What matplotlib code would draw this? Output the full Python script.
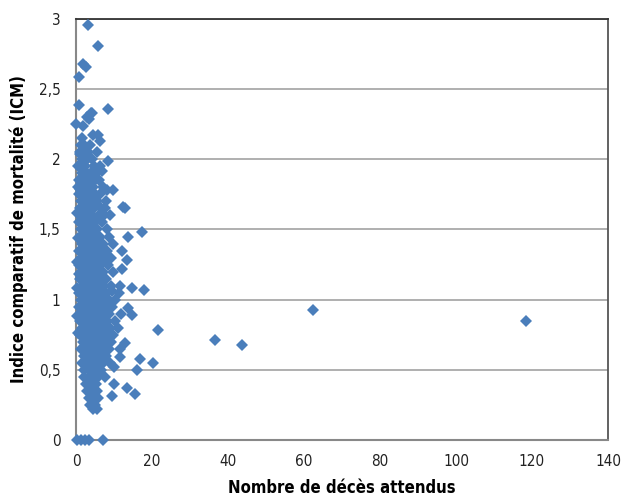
import matplotlib
matplotlib.use("Agg")
import matplotlib.pyplot as plt
from matplotlib.ticker import FuncFormatter, MultipleLocator

plt.rcParams['font.family'] = ['DejaVu Sans']
plt.rcParams['font.stretch'] = 'condensed'

# valeurs : (décès attendus, ICM)
outliers_x = [118.5, 62.5, 36.5, 43.8, 21.6, 20.2, 17.4, 17.8, 16.9, 16.1, 15.6,
              14.7, 14.7, 13.8, 13.8, 13.4, 13.4, 13.0, 13.0, 12.5, 12.1, 12.1,
              11.6, 11.6, 9.9, 9.9, 9.4, 9.4, 8.5, 8.5, 8.1, 9.7, 7.7]
outliers_y = [0.85, 0.924, 0.713, 0.68, 0.786, 0.55, 1.48, 1.07, 0.58, 0.50, 0.33,
              1.08, 0.89, 1.45, 0.94, 1.28, 0.37, 1.65, 0.69, 1.66, 1.35, 1.22,
              1.10, 0.59, 0.52, 0.40, 1.06, 0.31, 2.36, 1.99, 1.78, 1.78, 1.65]

top_x = [3.1, 5.8, 1.9, 2.6, 0.8, 0.9, 3.9, 2.8, 4.1, 3.3, 0.0, 1.9, 1.5, 4.6,
         6.3, 5.9, 1.1, 2.4, 2.8, 4.1, 6.8, 5.0, 1.9, 1.1]
top_y = [2.96, 2.81, 2.68, 2.66, 2.59, 2.39, 2.33, 2.30, 2.33, 2.29, 2.25, 2.24,
         2.15, 2.17, 2.13, 2.17, 2.04, 2.07, 2.00, 1.91, 1.92, 1.85, 1.88, 1.79]

edge_x = [0.2, 0.2, 0.6, 0.3, 0.5, 0.4, 0.6, 0.5, 0.7]
edge_y = [1.27, 1.08, 1.44, 1.62, 1.80, 0.88, 0.76, 1.95, 1.18]

zero_x = [0.2, 1.2, 2.4, 3.5, 7.0]
zero_y = [0, 0, 0, 0, 0]

# noyau dense, rangée par rangée
core_rows = {
    2.10: [1.3, 2.2, 3.6],
    2.05: [1.0, 2.0, 3.2, 5.5],
    2.00: [1.6, 2.9, 4.2],
    1.95: [1.1, 2.4, 4.8, 6.4],
    1.90: [1.5, 3.0, 4.0, 5.2],
    1.85: [0.9, 2.2, 3.5, 6.0],
    1.80: [1.3, 2.8, 4.4, 7.0],
    1.75: [0.8, 2.1, 3.3, 5.0, 6.3],
    1.70: [1.4, 2.7, 3.9, 5.5, 7.8],
    1.65: [1.0, 2.2, 3.4, 4.8, 6.6],
    1.60: [1.6, 3.0, 4.2, 6.0, 7.4, 9.0],
    1.55: [0.9, 2.3, 3.7, 5.1, 6.8],
    1.50: [1.3, 2.8, 4.1, 5.6, 8.2],
    1.45: [1.0, 2.1, 3.3, 4.7, 6.2, 8.8],
    1.40: [1.5, 2.9, 4.2, 5.7, 7.2, 9.8],
    1.35: [0.8, 2.2, 3.7, 5.1, 6.6, 8.1],
    1.30: [1.3, 2.7, 4.0, 5.8, 7.5, 9.1],
    1.25: [0.9, 2.1, 3.4, 4.8, 6.3, 8.3],
    1.20: [1.4, 2.9, 4.3, 5.6, 7.1, 9.8],
    1.15: [1.0, 2.3, 3.7, 5.1, 6.6, 8.0],
    1.10: [1.6, 3.1, 4.5, 6.0, 7.5, 9.3],
    1.05: [0.7, 2.1, 3.6, 5.0, 6.5, 7.9, 11.2],
    1.00: [1.3, 2.8, 4.1, 5.6, 7.0, 8.6, 10.4],
    0.95: [0.9, 2.2, 3.7, 4.9, 6.2, 7.7, 9.6],
    0.90: [1.5, 2.9, 4.3, 5.8, 7.2, 8.8, 11.8],
    0.85: [1.0, 2.3, 3.8, 5.2, 6.6, 8.1, 10.3],
    0.80: [1.6, 3.1, 4.4, 5.9, 7.4, 9.0, 11.0],
    0.75: [1.1, 2.5, 4.0, 5.3, 6.7, 8.4, 9.8],
    0.70: [1.8, 3.2, 4.6, 6.1, 7.6, 9.2],
    0.65: [1.3, 2.8, 4.2, 5.5, 7.0, 8.6, 11.5],
    0.60: [2.0, 3.4, 4.8, 6.4, 7.9],
    0.55: [1.6, 2.9, 4.3, 5.6, 7.2, 9.0],
    0.50: [2.2, 3.5, 4.9, 6.5],
    0.45: [2.1, 3.3, 4.5, 5.8, 7.6],
    0.40: [2.6, 3.9, 5.2],
    0.35: [2.9, 4.2, 5.6],
    0.30: [3.3, 4.6, 5.9],
    0.25: [3.8, 5.0],
    0.22: [4.4, 5.5],
}

core_x = []
core_y = []
for yv, xs in core_rows.items():
    for xv in xs:
        core_x.append(xv)
        core_y.append(yv)

x = outliers_x + top_x + edge_x + zero_x + core_x
y = outliers_y + top_y + edge_y + zero_y + core_y

fig = plt.figure(figsize=(6.33, 4.97), dpi=100)
ax = fig.add_axes([0.12, 0.1147, 0.8405, 0.8471])

ax.plot(x, y, linestyle='none', marker='D', markersize=5.8,
        color='#4a7ebb', markeredgewidth=0, clip_on=False, zorder=3)

ax.set_xlim(0, 140)
ax.set_ylim(0, 3)
ax.xaxis.set_major_locator(MultipleLocator(20))
ax.yaxis.set_major_locator(MultipleLocator(0.5))
ax.yaxis.set_major_formatter(FuncFormatter(lambda v, p: ('%g' % v).replace('.', ',')))

ax.grid(axis='y', color='#9a9a9a', linewidth=1.1)
ax.set_axisbelow(True)
ax.tick_params(length=0, labelsize=11, colors='#222222')
ax.tick_params(axis='x', pad=10)
ax.tick_params(axis='y', pad=11)

for side in ['left', 'bottom']:
    ax.spines[side].set_color('#888888')
    ax.spines[side].set_linewidth(1.5)
ax.spines['top'].set_color('#333333')
ax.spines['right'].set_color('#555555')
ax.spines['top'].set_linewidth(1.3)
ax.spines['right'].set_linewidth(1.3)

ax.set_xlabel('Nombre de décès attendus', fontsize=12, fontweight='bold', labelpad=7)
ax.set_ylabel('Indice comparatif de mortalité (ICM)', fontsize=12, fontweight='bold', labelpad=8)

fig.savefig('out.png', dpi=100)
